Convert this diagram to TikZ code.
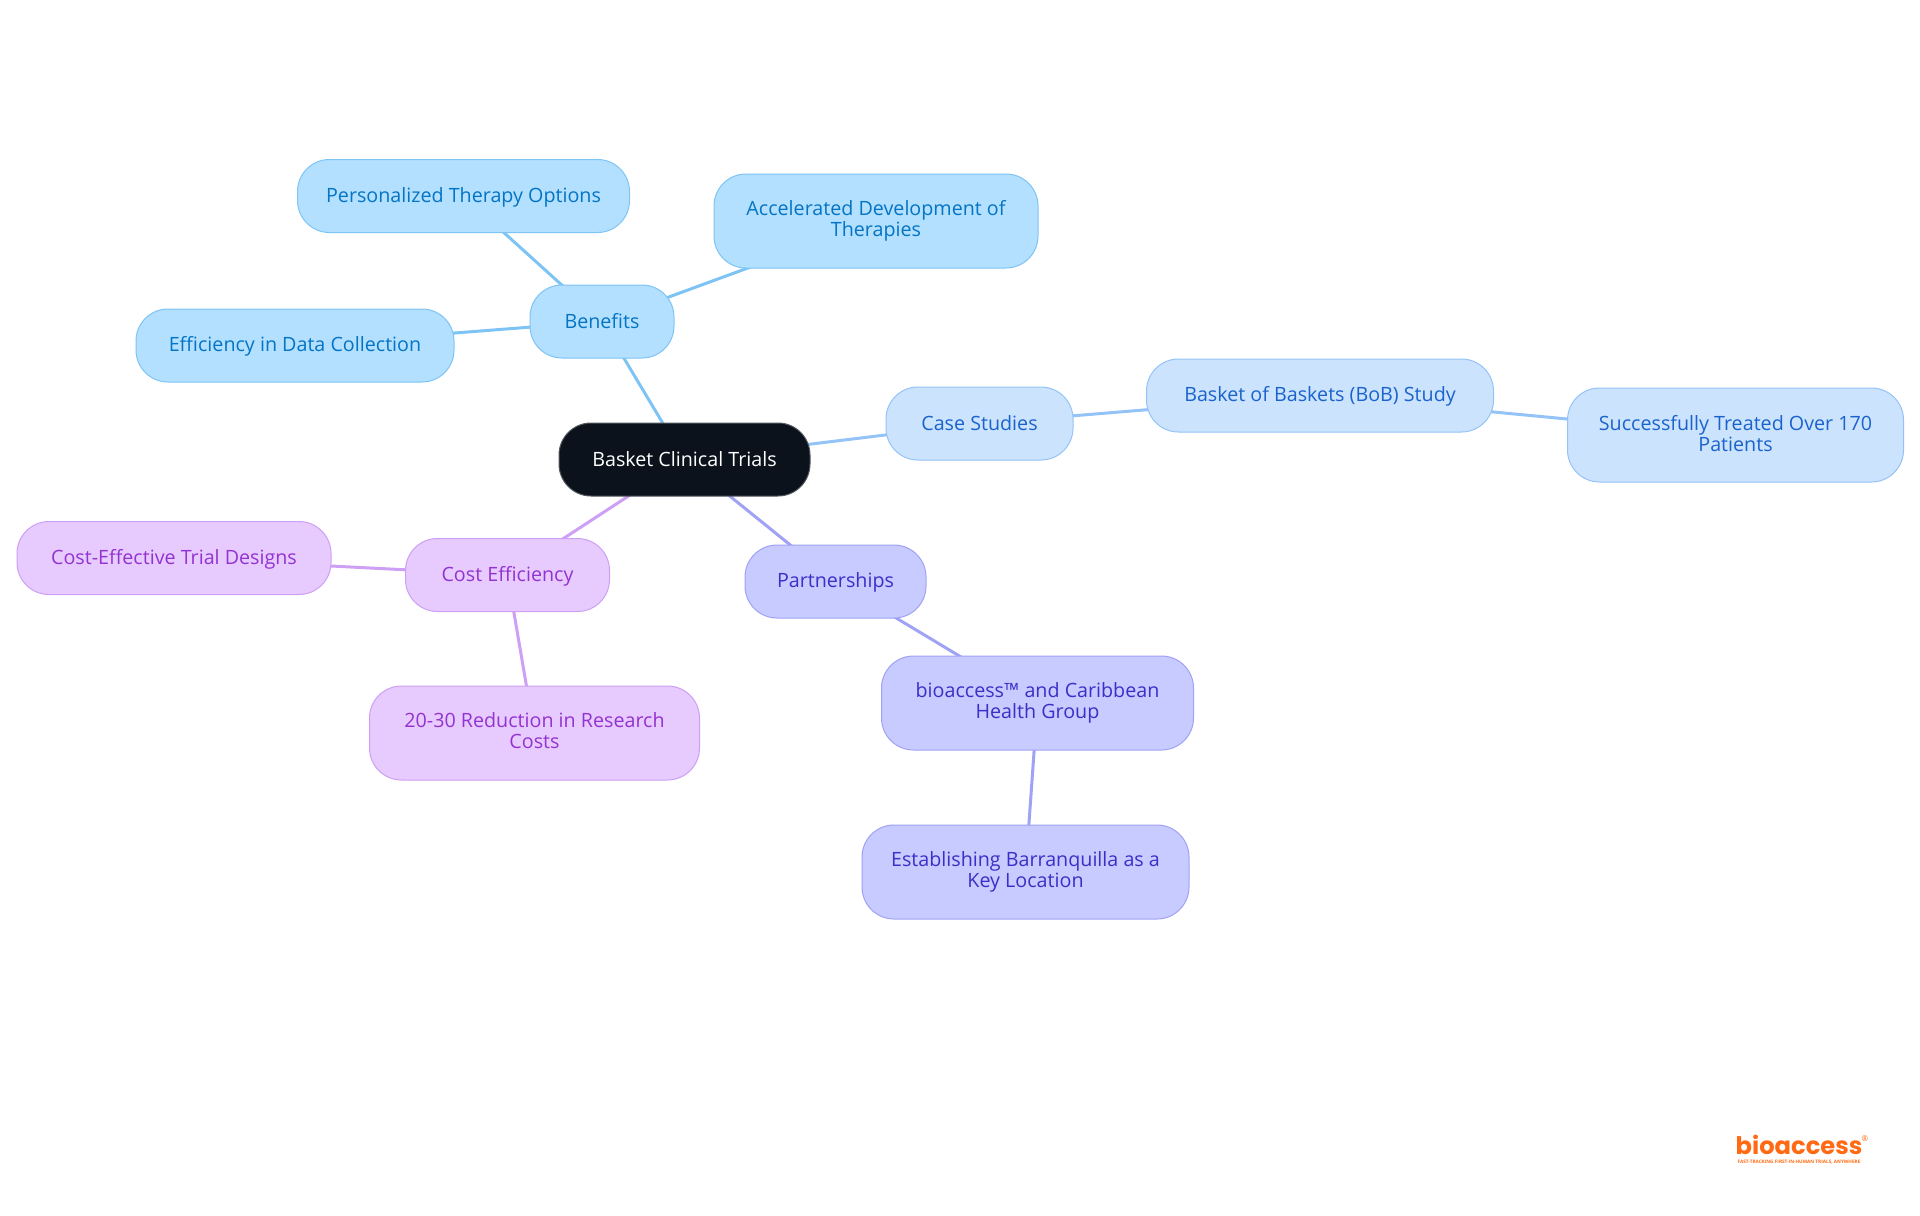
\documentclass[tikz,border=0pt]{standalone}
\usepackage{fontspec}
\usepackage{xcolor}
\usepackage{tikz}
\usetikzlibrary{backgrounds}
\setmainfont{Open Sans}
\newfontfamily\logofont{Poppins}
\newcommand{\topicstrut}{\rule[-2pt]{0pt}{10.5pt}}
\definecolor{skyfill}{HTML}{B3E0FF}
\definecolor{skyline}{HTML}{7DC4F5}
\definecolor{skytext}{HTML}{0474C4}
\definecolor{bluefill}{HTML}{CCE3FD}
\definecolor{blueline}{HTML}{93C3F7}
\definecolor{bluetext}{HTML}{1A63CC}
\definecolor{indigofill}{HTML}{C8CBFF}
\definecolor{indigoline}{HTML}{A0A2F5}
\definecolor{indigotext}{HTML}{3A30C8}
\definecolor{purplefill}{HTML}{E7CBFF}
\definecolor{purpleline}{HTML}{CDA0F5}
\definecolor{purpletext}{HTML}{9333D0}
\definecolor{rootfill}{HTML}{0B121B}
\definecolor{logoorange}{HTML}{FF6A13}
\tikzset{
    topic/.style={draw, rounded corners=16pt, align=center, inner sep=0pt, line width=0.5pt,
        font=\fontsize{9.85}{10.5}\selectfont, execute at begin node=\topicstrut, execute at end node=\topicstrut},
    skytopic/.style={topic, draw=skyline, fill=skyfill, text=skytext},
    bluetopic/.style={topic, draw=blueline, fill=bluefill, text=bluetext},
    indigotopic/.style={topic, draw=indigoline, fill=indigofill, text=indigotext},
    purpletopic/.style={topic, draw=purpleline, fill=purplefill, text=purpletext},
    link/.style={line width=1.5pt}
}
\begin{document}
\begin{tikzpicture}[x=0.5pt, y=-0.5pt]
            \useasboundingbox (0,0) rectangle (1920,1215);
            \node [topic, draw=rootfill!70!white, fill=rootfill, text=white, minimum width=125.5pt, minimum height=36.5pt] (root) at (684.5,459.5) {Basket Clinical Trials};

            \node [skytopic, minimum width=72pt, minimum height=36.5pt] (benefits) at (602,321.5) {Benefits};
            \node [skytopic, minimum width=166pt, minimum height=36.5pt] (therapy) at (463.5,196) {Personalized Therapy Options};
            \node [skytopic, minimum width=162pt, minimum height=47pt] (accel) at (876,221) {Accelerated Development of\\Therapies};
            \node [skytopic, minimum width=159pt, minimum height=36.5pt] (datacoll) at (295,345.5) {Efficiency in Data Collection};

            \node [bluetopic, minimum width=93.5pt, minimum height=36.5pt] (cases) at (979.5,423.5) {Case Studies};
            \node [bluetopic, minimum width=173.5pt, minimum height=36.5pt] (bob) at (1320,395.5) {Basket of Baskets (BoB) Study};
            \node [bluetopic, minimum width=168pt, minimum height=47pt] (treated) at (1735.5,435) {Successfully Treated Over 170\\Patients};

            \node [indigotopic, minimum width=90.5pt, minimum height=36.5pt] (partners) at (835.5,581.5) {Partnerships};
            \node [indigotopic, minimum width=156pt, minimum height=47pt] (caribbean) at (1037.5,703) {bioaccess™ and Caribbean\\Health Group};
            \node [indigotopic, minimum width=163.5pt, minimum height=47pt] (barranq) at (1025.5,872) {Establishing Barranquilla as a\\Key Location};

            \node [purpletopic, minimum width=102pt, minimum height=36.5pt] (cost) at (507.5,575) {Cost Efficiency};
            \node [purpletopic, minimum width=157pt, minimum height=36.5pt] (designs) at (174,558) {Cost-Effective Trial Designs};
            \node [purpletopic, minimum width=165pt, minimum height=47pt] (reduction) at (534.5,733) {20-30 Reduction in Research\\Costs};

            % logo
            \node [inner sep=0pt, anchor=base, text=logoorange, font=\logofont\bfseries\fontsize{12.1}{12.5}\selectfont] (logo) at (1799,1154) {bioaccess};
            \node [inner sep=0pt, text=logoorange, font=\fontsize{4}{4}\selectfont] (logomark) at (1865,1139) {®};
            \node [inner sep=0pt, text=logoorange, font=\bfseries\fontsize{2.35}{3}\selectfont] (tagline) at (1799,1162) {FAST-TRACKING FIRST-IN-HUMAN TRIALS, ANYWHERE};

            \begin{scope}[on background layer]
                \draw [link, skyline] (root.center) -- (benefits.center);
                \draw [link, skyline] (benefits.center) -- (therapy.center);
                \draw [link, skyline] (benefits.center) -- (accel.center);
                \draw [link, skyline] (benefits.center) -- (datacoll.center);
                \draw [link, blueline] (root.center) -- (cases.center);
                \draw [link, blueline] (cases.center) -- (bob.center);
                \draw [link, blueline] (bob.center) -- (treated.center);
                \draw [link, indigoline] (root.center) -- (partners.center);
                \draw [link, indigoline] (partners.center) -- (caribbean.center);
                \draw [link, indigoline] (caribbean.center) -- (barranq.center);
                \draw [link, purpleline] (root.center) -- (cost.center);
                \draw [link, purpleline] (cost.center) -- (designs.center);
                \draw [link, purpleline] (cost.center) -- (reduction.center);
            \end{scope}
        \end{tikzpicture}
\end{document}
